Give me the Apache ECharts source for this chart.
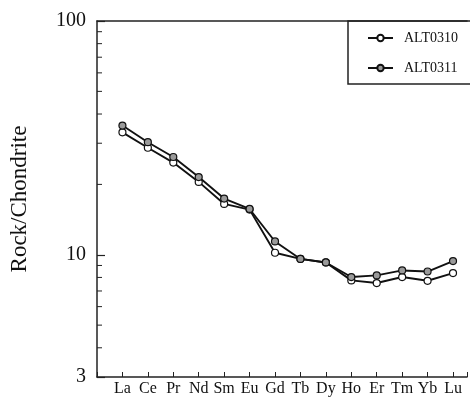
<!DOCTYPE html>
<html>
<head>
<meta charset="utf-8">
<script src="https://cdn.jsdelivr.net/npm/echarts@6/dist/echarts.min.js"></script>
<style>
  html, body { margin: 0; padding: 0; background: #fff; }
  #chart { width: 470px; height: 397px; }
</style>
</head>
<body>
<div id="chart"></div>
<script>
// REE categories and chondrite-normalised values
var elements = ['La', 'Ce', 'Pr', 'Nd', 'Sm', 'Eu', 'Gd', 'Tb', 'Dy', 'Ho', 'Er', 'Tm', 'Yb', 'Lu'];
var alt0310 = [33.4, 28.7, 24.8, 20.5, 16.5, 15.6, 10.2, 9.6, 9.27, 7.77, 7.57, 8.03, 7.74, 8.35];
var alt0311 = [35.7, 30.3, 26.2, 21.5, 17.4, 15.7, 11.4, 9.6, 9.27, 8.03, 8.16, 8.57, 8.48, 9.40];
var yLabels = [3, 10, 100];
var minorTicks = [4, 5, 6, 7, 8, 9, 20, 30, 40, 50, 60, 70, 80, 90];

var font = 'Liberation Serif, Times New Roman, serif';
var chart = echarts.init(document.getElementById('chart'));

function pairs(arr) {
  return arr.map(function (v, i) { return [i, v]; });
}

var option = {
  animation: false,
  backgroundColor: '#fff',
  grid: { left: 96, right: 0, top: 21, bottom: 19 },
  legend: {
    orient: 'vertical',
    left: 362,
    top: 26,
    itemGap: 16,
    itemWidth: 25,
    itemHeight: 8,
    data: ['ALT0310', 'ALT0311'],
    textStyle: { fontFamily: font, fontSize: 14, color: '#111', padding: [0, 0, 0, 6] }
  },
  xAxis: [{
    type: 'value',
    min: -1,
    max: 13.55,
    interval: 1,
    axisLine: { lineStyle: { color: '#222', width: 1.5 } },
    axisTick: { inside: true, length: 5, lineStyle: { color: '#222' } },
    splitLine: { show: false },
    axisLabel: {
      fontFamily: font, fontSize: 16, color: '#111', margin: 4,
      formatter: function (v) { return elements[Math.round(v)] || ''; }
    }
  }, {
    type: 'value',
    position: 'top',
    min: -1,
    max: 13.55,
    axisLine: { show: true, onZero: false, lineStyle: { color: '#222', width: 1.5 } },
    axisTick: { show: false },
    axisLabel: { show: false },
    splitLine: { show: false }
  }],
  yAxis: {
    type: 'log',
    logBase: 10,
    min: 3,
    max: 100,
    name: 'Rock/Chondrite',
    nameLocation: 'middle',
    nameGap: 66,
    nameTextStyle: { fontFamily: font, fontSize: 23, color: '#111' },
    axisLine: { show: true, onZero: false, lineStyle: { color: '#222', width: 1.5 } },
    axisTick: { inside: true, length: 8, lineStyle: { color: '#222', width: 1.2 } },
    splitLine: { show: false },
    axisLabel: {
      fontFamily: font, fontSize: 20, color: '#111', margin: 11,
      formatter: function (v) {
        var r = Math.round(v);
        return yLabels.indexOf(r) >= 0 ? String(r) : '';
      }
    }
  },
  series: [{
    name: 'ALT0310',
    type: 'line',
    data: pairs(alt0310),
    symbol: 'circle',
    symbolSize: 7,
    lineStyle: { color: '#111', width: 1.9 },
    itemStyle: { color: '#fff', borderColor: '#111', borderWidth: 1.2 },
    z: 3
  }, {
    name: 'ALT0311',
    type: 'line',
    data: pairs(alt0311),
    symbol: 'circle',
    symbolSize: 7,
    lineStyle: { color: '#111', width: 1.9 },
    itemStyle: { color: '#9a9a9a', borderColor: '#111', borderWidth: 1.2 },
    z: 4
  }]
};
chart.setOption(option);

// minor log ticks and legend frame
var x0 = chart.convertToPixel({ xAxisIndex: 0 }, -1);
var graphics = minorTicks.map(function (v) {
  var y = chart.convertToPixel({ yAxisIndex: 0 }, v);
  return {
    type: 'line',
    shape: { x1: x0, y1: y, x2: x0 + 5, y2: y },
    style: { stroke: '#222', lineWidth: 1 },
    silent: true,
    z: 10
  };
});
graphics.push({
  type: 'rect',
  shape: { x: 348, y: chart.convertToPixel({ yAxisIndex: 0 }, 100), width: 130, height: 63 },
  style: { fill: 'none', stroke: '#222', lineWidth: 1.5 },
  silent: true
});
chart.setOption({ graphic: graphics });
</script>
</body>
</html>
